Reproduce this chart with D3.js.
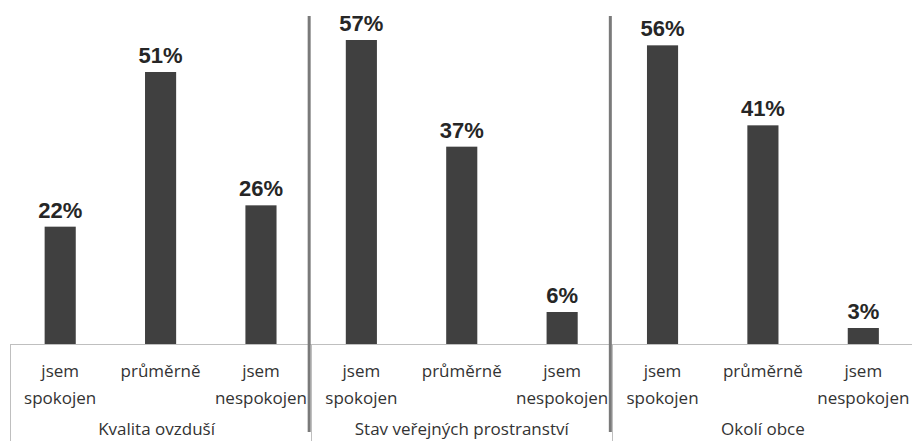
<!DOCTYPE html>
<html>
<head>
<meta charset="utf-8">
<script src="https://cdn.jsdelivr.net/npm/d3@7"></script>
<style>
  html, body { margin: 0; padding: 0; background: #ffffff; }
  svg { display: block; }
</style>
</head>
<body>
<svg id="chart" width="912" height="441"></svg>
<script>
// ---- data ----
const groups = ["Kvalita ovzduší", "Stav veřejných prostranství", "Okolí obce"];
const answers = ["jsem spokojen", "průměrně", "jsem nespokojen"];
const answerLines = [["jsem", "spokojen"], ["průměrně"], ["jsem", "nespokojen"]];
const valuesKvalita = [0.22, 0.51, 0.26];
const valuesStav = [0.57, 0.37, 0.06];
const valuesOkoli = [0.56, 0.41, 0.03];
const seriesValues = [valuesKvalita, valuesStav, valuesOkoli];

const rows = [];
groups.forEach((g, gi) => {
  answers.forEach((a, ai) => {
    rows.push({ key: gi + "|" + ai, group: g, gi, ai, value: seriesValues[gi][ai] });
  });
});

const svg = d3.select("#chart");
const baseY = 344;

const x = d3.scaleBand()
  .domain(rows.map(d => d.key))
  .range([10, 913.5])
  .paddingInner(0.69)
  .paddingOuter(0.345);

const y = d3.scaleLinear().domain([0, 0.6]).range([baseY, 24]);

const step = x.step();
const rangeStart = x.range()[0];

// bars
svg.append("g").selectAll("rect")
  .data(rows)
  .join("rect")
  .attr("x", d => x(d.key))
  .attr("width", x.bandwidth())
  .attr("y", d => y(d.value))
  .attr("height", d => baseY - y(d.value))
  .attr("fill", "#404040");

// value labels
svg.append("g").selectAll("text")
  .data(rows)
  .join("text")
  .attr("x", d => x(d.key) + x.bandwidth() / 2)
  .attr("y", d => y(d.value) - 9)
  .attr("text-anchor", "middle")
  .attr("font-family", "Liberation Sans, Arial, sans-serif")
  .attr("font-weight", "bold")
  .attr("font-size", 22)
  .attr("fill", "#262626")
  .text(d => Math.round(d.value * 100) + "%");

// axis line (baseline)
svg.append("line")
  .attr("x1", rangeStart).attr("x2", 912)
  .attr("y1", baseY + 0.5).attr("y2", baseY + 0.5)
  .attr("stroke", "#bfbfbf").attr("stroke-width", 1);

// light group boundaries in the label area
const boundaries = d3.range(0, groups.length + 1).map(i => rangeStart + i * 3 * step);
svg.append("g").selectAll("line")
  .data(boundaries)
  .join("line")
  .attr("x1", d => Math.round(d) + 0.5).attr("x2", d => Math.round(d) + 0.5)
  .attr("y1", baseY).attr("y2", 441)
  .attr("stroke", "#bfbfbf").attr("stroke-width", 1);

// dark separators between groups
svg.append("g").selectAll("line")
  .data(boundaries.slice(1, groups.length))
  .join("line")
  .attr("x1", d => d - 2).attr("x2", d => d - 2)
  .attr("y1", 16).attr("y2", 432)
  .attr("stroke", "#7a7a7a").attr("stroke-width", 3);

// category labels
const catG = svg.append("g")
  .attr("font-family", "Open Sans, sans-serif")
  .attr("font-size", 17)
  .attr("fill", "#333333")
  .attr("text-anchor", "middle");

catG.selectAll("text")
  .data(rows)
  .join("text")
  .attr("x", d => x(d.key) + x.bandwidth() / 2)
  .attr("y", 377)
  .each(function(d) {
    const lines = answerLines[d.ai];
    d3.select(this).selectAll("tspan")
      .data(lines)
      .join("tspan")
      .attr("x", x(d.key) + x.bandwidth() / 2)
      .attr("dy", (l, i) => i === 0 ? 0 : 27)
      .text(l => l);
  });

// group labels
svg.append("g")
  .attr("font-family", "Open Sans, sans-serif")
  .attr("font-size", 17)
  .attr("fill", "#333333")
  .attr("text-anchor", "middle")
  .selectAll("text")
  .data(groups)
  .join("text")
  .attr("x", (g, i) => rangeStart + (i * 3 + 1.5) * step - (i === 0 ? 4 : 0))
  .attr("y", 435)
  .text(g => g);
</script>
</body>
</html>
